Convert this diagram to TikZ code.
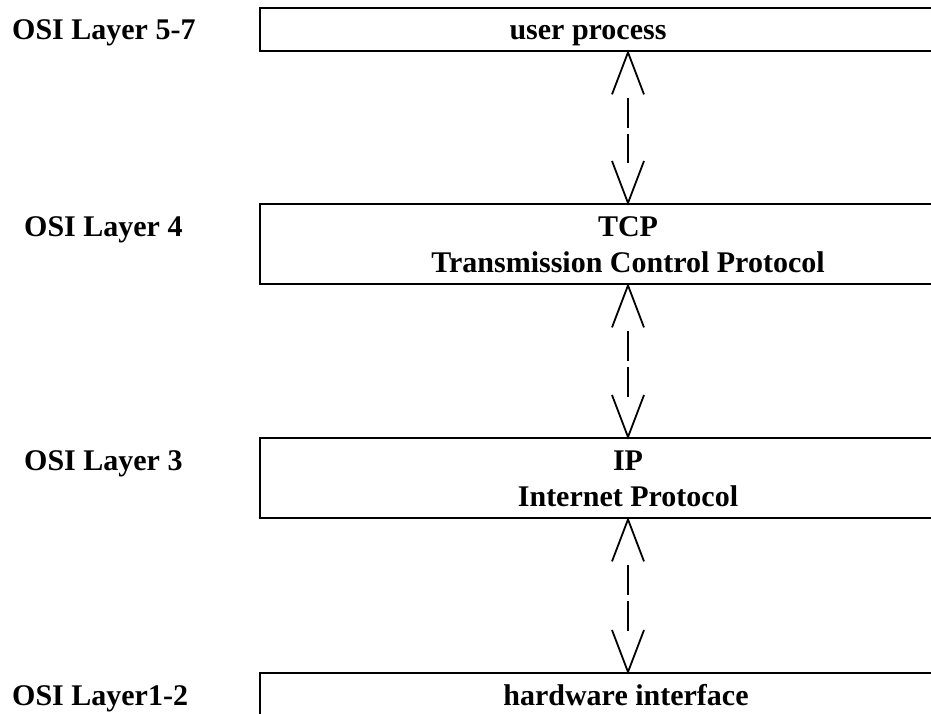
\documentclass[tikz,border=0pt]{standalone}
\usepackage{fontspec}
\setmainfont{Liberation Serif}
\usetikzlibrary{calc}
\begin{document}
\begin{tikzpicture}[x=1pt,y=-1pt,
  txt/.style={font=\fontsize{30}{36}\selectfont\bfseries, inner sep=0pt},
  layer/.style={draw=black, line width=2.4pt, minimum width=738pt,
    inner sep=0pt, anchor=north west},
  boxtext/.style={txt, align=center, anchor=base},
  osi/.style={txt, anchor=base west},
  shaft/.style={line width=1.6pt, dash pattern=on 30pt off 6pt},
  vtip/.style={line width=1.8pt, line join=miter}]
\useasboundingbox[fill=white] (0,0) rectangle (931,713);

% protocol stack (boxes run past the right edge)
\node[layer, minimum height=43pt] (user) at (259,7) {};
\node[layer, minimum height=80pt] (tcp) at (259,203) {};
\node[layer, minimum height=80pt] (ip) at (259,437) {};
\node[layer, minimum height=50pt] (hw) at (259,672) {};

% box captions (two-line captions are placed by their last baseline)
\node[boxtext] (tuser) at (588,39) {user process};
\node[boxtext] (ttcp) at (628,272) {TCP\\Transmission Control Protocol};
\node[boxtext] (tip) at (628,506) {IP\\Internet Protocol};
\node[boxtext] (thw) at (626,705) {hardware interface};

% OSI layer labels
\node[osi] (l57) at (12,39) {OSI Layer 5-7};
\node[osi] (l4) at (24,236) {OSI Layer 4};
\node[osi] (l3) at (24,470) {OSI Layer 3};
\node[osi] (l12) at (12,705) {OSI Layer1-2};

% two-way links between neighbouring layers
\coordinate (axis) at (628,0);
\foreach \a/\b in {user/tcp, tcp/ip, ip/hw}{
  \draw[vtip] ($(\a.south -| axis)+(-16,42)$) -- (\a.south -| axis) -- ($(\a.south -| axis)+(16,42)$);
  \draw[vtip] ($(\b.north -| axis)+(-16,-42)$) -- (\b.north -| axis) -- ($(\b.north -| axis)+(16,-42)$);
  \draw[shaft] ($(\a.south -| axis)+(0,46)$) -- ($(\b.north -| axis)+(0,-40)$);
}
\end{tikzpicture}
\end{document}
